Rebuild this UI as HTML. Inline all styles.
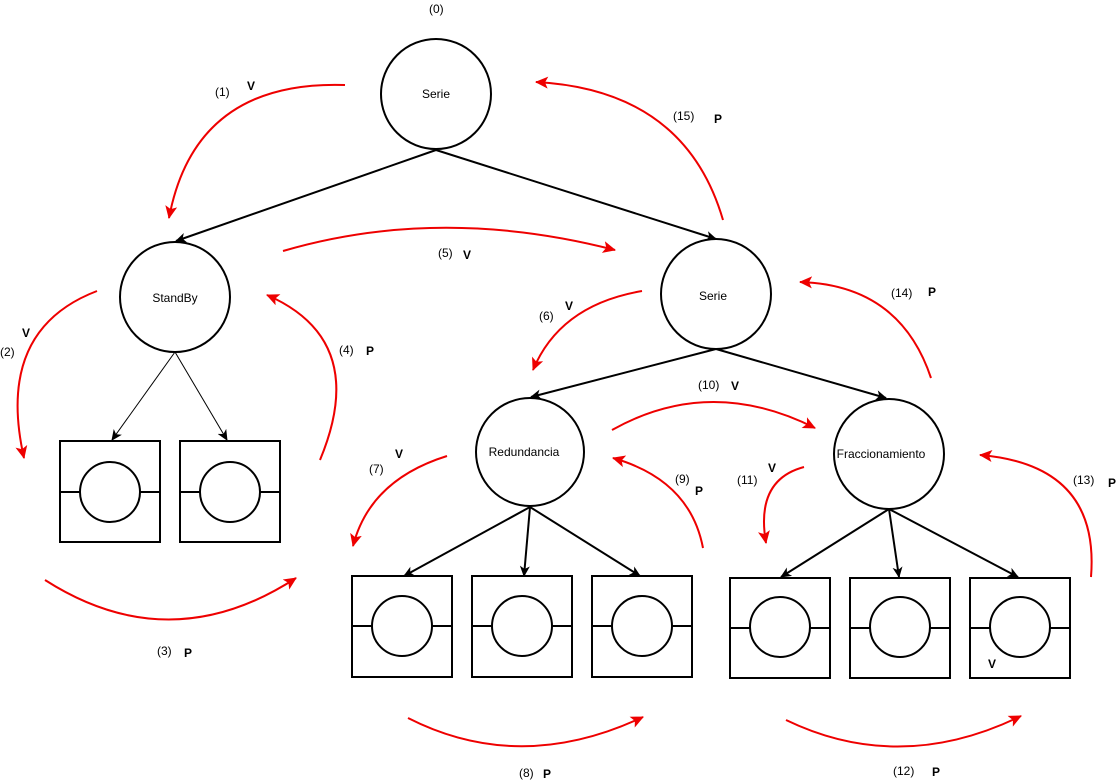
<!DOCTYPE html>
<html><head><meta charset="utf-8"><style>
html,body{margin:0;padding:0;background:#fff;}
svg{display:block;}
text{font-family:"Liberation Sans",sans-serif;font-size:12px;fill:#000;}
.b{font-weight:bold;}
</style></head><body>
<svg width="1119" height="782" viewBox="0 0 1119 782" xmlns="http://www.w3.org/2000/svg">
<defs>
<marker id="ab" markerWidth="12" markerHeight="12" refX="10" refY="6" orient="auto" markerUnits="userSpaceOnUse">
<path d="M0,1 L11,6 L0,11 L3,6 Z" fill="#000"/></marker>
<marker id="ar" markerWidth="14" markerHeight="14" refX="12" refY="7" orient="auto" markerUnits="userSpaceOnUse">
<path d="M0,1 L13,7 L0,13 L3,7 Z" fill="#e00"/></marker>
</defs>
<g fill="none" stroke="#000" stroke-width="2">
<circle cx="436" cy="94" r="55"/>
<circle cx="175" cy="297" r="55"/>
<circle cx="716" cy="294" r="55"/>
<circle cx="530" cy="452" r="54"/>
<circle cx="889" cy="454" r="55"/>
<rect x="60" y="441" width="100" height="101"/><line x1="60" y1="492" x2="80" y2="492"/><line x1="140" y1="492" x2="160" y2="492"/><circle cx="110" cy="492" r="30"/>
<rect x="180" y="441" width="100" height="101"/><line x1="180" y1="492" x2="200" y2="492"/><line x1="260" y1="492" x2="280" y2="492"/><circle cx="230" cy="492" r="30"/>
<rect x="352" y="576" width="100" height="101"/><line x1="352" y1="626" x2="372" y2="626"/><line x1="432" y1="626" x2="452" y2="626"/><circle cx="402" cy="626" r="30"/>
<rect x="472" y="576" width="100" height="101"/><line x1="472" y1="626" x2="492" y2="626"/><line x1="552" y1="626" x2="572" y2="626"/><circle cx="522" cy="626" r="30"/>
<rect x="592" y="576" width="100" height="101"/><line x1="592" y1="626" x2="612" y2="626"/><line x1="672" y1="626" x2="692" y2="626"/><circle cx="642" cy="626" r="30"/>
<rect x="730" y="578" width="100" height="100"/><line x1="730" y1="628" x2="750" y2="628"/><line x1="810" y1="628" x2="830" y2="628"/><circle cx="780" cy="627" r="30"/>
<rect x="850" y="578" width="100" height="100"/><line x1="850" y1="628" x2="870" y2="628"/><line x1="930" y1="628" x2="950" y2="628"/><circle cx="900" cy="627" r="30"/>
<rect x="970" y="578" width="100" height="100"/><line x1="970" y1="628" x2="990" y2="628"/><line x1="1050" y1="628" x2="1070" y2="628"/><circle cx="1020" cy="627" r="30"/>
</g>
<g stroke="#000" stroke-width="2" fill="none">
<line x1="436" y1="150" x2="176" y2="241" marker-end="url(#ab)"/>
<line x1="436" y1="150" x2="716" y2="239" marker-end="url(#ab)"/>
<line x1="716" y1="349" x2="531" y2="397" marker-end="url(#ab)"/>
<line x1="716" y1="349" x2="886" y2="398" marker-end="url(#ab)"/>
<line x1="530" y1="507" x2="404" y2="576" marker-end="url(#ab)"/>
<line x1="530" y1="507" x2="524" y2="576" marker-end="url(#ab)"/>
<line x1="530" y1="507" x2="640" y2="576" marker-end="url(#ab)"/>
<line x1="889" y1="509" x2="781" y2="577" marker-end="url(#ab)"/>
<line x1="889" y1="509" x2="899" y2="577" marker-end="url(#ab)"/>
<line x1="889" y1="509" x2="1018" y2="577" marker-end="url(#ab)"/>
</g>
<g stroke="#000" stroke-width="1" fill="none">
<line x1="175" y1="352" x2="112" y2="440" marker-end="url(#ab)"/>
<line x1="175" y1="352" x2="227" y2="440" marker-end="url(#ab)"/>
</g>
<g stroke="#e00" stroke-width="2" fill="none">
<path d="M345,85 Q195,80 169,218" marker-end="url(#ar)"/>
<path d="M97,291 Q-5,330 24,458" marker-end="url(#ar)"/>
<path d="M45,580 Q170,660 296,578" marker-end="url(#ar)"/>
<path d="M320,460 Q370,340 267,295" marker-end="url(#ar)"/>
<path d="M283,251 Q440,205 615,250" marker-end="url(#ar)"/>
<path d="M642,291 Q560,305 533,370" marker-end="url(#ar)"/>
<path d="M447,456 Q370,480 353,546" marker-end="url(#ar)"/>
<path d="M408,718 Q520,775 643,717" marker-end="url(#ar)"/>
<path d="M703,548 Q690,480 613,458" marker-end="url(#ar)"/>
<path d="M612,430 Q710,375 815,428" marker-end="url(#ar)"/>
<path d="M804,467 Q755,480 766,543" marker-end="url(#ar)"/>
<path d="M786,720 Q900,775 1021,716" marker-end="url(#ar)"/>
<path d="M1091,577 Q1100,465 980,455" marker-end="url(#ar)"/>
<path d="M931,378 Q900,285 800,282" marker-end="url(#ar)"/>
<path d="M723,220 Q685,90 536,82" marker-end="url(#ar)"/>
</g>
<text x="436" y="98" text-anchor="middle">Serie</text>
<text x="175" y="302" text-anchor="middle">StandBy</text>
<text x="713" y="300" text-anchor="middle">Serie</text>
<text x="524" y="456" text-anchor="middle">Redundancia</text>
<text x="881" y="458" text-anchor="middle">Fraccionamiento</text>
<text x="429" y="13">(0)</text>
<text x="215" y="96">(1)</text><text x="247" y="90" class="b">V</text>
<text x="0" y="356">(2)</text><text x="22" y="337" class="b">V</text>
<text x="157" y="655">(3)</text><text x="184" y="657" class="b">P</text>
<text x="339" y="354">(4)</text><text x="366" y="355" class="b">P</text>
<text x="438" y="257">(5)</text><text x="463" y="259" class="b">V</text>
<text x="539" y="320">(6)</text><text x="565" y="310" class="b">V</text>
<text x="369" y="473">(7)</text><text x="395" y="458" class="b">V</text>
<text x="519" y="777">(8)</text><text x="543" y="778" class="b">P</text>
<text x="675" y="483">(9)</text><text x="695" y="495" class="b">P</text>
<text x="698" y="389">(10)</text><text x="731" y="390" class="b">V</text>
<text x="737" y="484">(11)</text><text x="768" y="472" class="b">V</text>
<text x="893" y="775">(12)</text><text x="932" y="776" class="b">P</text>
<text x="1073" y="484">(13)</text><text x="1108" y="487" class="b">P</text>
<text x="891" y="297">(14)</text><text x="928" y="296" class="b">P</text>
<text x="673" y="120">(15)</text><text x="714" y="123" class="b">P</text>
<text x="988" y="668" class="b">V</text>
</svg>
</body></html>
